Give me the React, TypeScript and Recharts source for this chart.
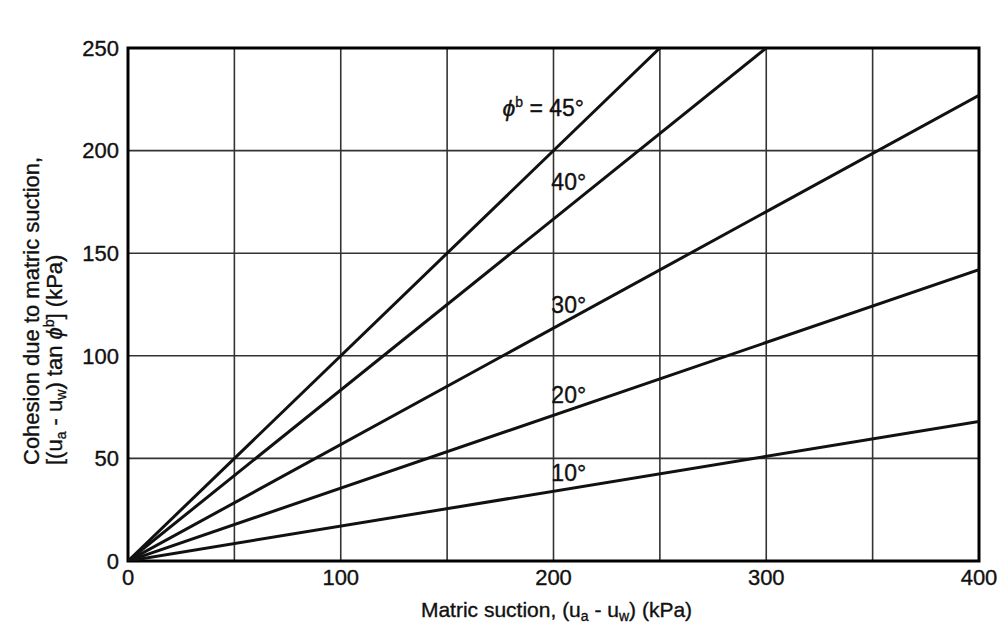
import {
    CartesianGrid,
    Line,
    LineChart,
    ReferenceArea,
    ReferenceDot,
    XAxis,
    YAxis,
} from "recharts";

// matric suction axis (kPa), grid every 50, labels every 100
const X_TICKS = [0, 50, 100, 150, 200, 250, 300, 350, 400];
// cohesion axis (kPa)
const Y_TICKS = [0, 50, 100, 150, 200, 250];

// friction angles phi_b, one straight line each from the origin
const ANGLES = ["45°", "40°", "30°", "20°", "10°"];
// where each line leaves the plot
const END_SUCTION = [250, 300, 400, 400, 400];
const END_COHESION = [250, 250, 227, 142, 68];

// label anchors (data units), left/baseline of each angle label
const LABEL_SUCTION = [176, 199, 199, 199, 199];
const LABEL_COHESION = [217, 181, 121, 77, 39];

const FONT = "'Liberation Sans', Arial, Helvetica, sans-serif";
const INK = "#111";
// a hairline outline makes the type as heavy as the scanned original
const HEAVY = { stroke: INK, strokeWidth: 0.35 };

const series = ANGLES.map((name, i) => ({
    name,
    data: [
        { x: 0, y: 0 },
        { x: END_SUCTION[i], y: END_COHESION[i] },
    ],
}));

function AngleLabel({ cx, cy, i }: { cx?: number; cy?: number; i: number }) {
    if (cx == null || cy == null) return null;
    return (
        <text x={cx} y={cy} fontFamily={FONT} fontSize={23} fill={INK} {...HEAVY}>
            {i === 0 ? (
                <>
                    <tspan fontStyle="italic">ϕ</tspan>
                    <tspan fontSize={14} dy={-9}>b</tspan>
                    <tspan dy={9}> = {ANGLES[i]}</tspan>
                </>
            ) : (
                ANGLES[i]
            )}
        </text>
    );
}

const renderXTitle = ({ viewBox }: any) => {
    const cx = viewBox.x + viewBox.width / 2 + 3;
    const y = viewBox.y + 56;
    return (
        <text x={cx} y={y} textAnchor="middle" fontFamily={FONT} fontSize={21} fill={INK} {...HEAVY}>
            Matric suction, (u
            <tspan fontSize={14} dy={4}>a</tspan>
            <tspan dy={-4}> - u</tspan>
            <tspan fontSize={14} dy={4}>w</tspan>
            <tspan dy={-4}>) (kPa)</tspan>
        </text>
    );
};

const renderYTitle = ({ viewBox }: any) => {
    const y = viewBox.y + viewBox.height - 96;
    return (
        <g fontFamily={FONT} fontSize={22} fill={INK} {...HEAVY}>
            <text x={39} y={y} transform={`rotate(-90 39 ${y})`}>
                Cohesion due to matric suction,
            </text>
            <text x={62} y={y} transform={`rotate(-90 62 ${y})`}>
                [(u
                <tspan fontSize={14} dy={4}>a</tspan>
                <tspan dy={-4}> - u</tspan>
                <tspan fontSize={14} dy={4}>w</tspan>
                <tspan dy={-4}>) tan </tspan>
                <tspan fontStyle="italic">ϕ</tspan>
                <tspan fontSize={14} dy={-8}>b</tspan>
                <tspan dy={8}>] (kPa)</tspan>
            </text>
        </g>
    );
};

const tickStyle = { fill: INK, fontSize: 22, fontFamily: FONT, ...HEAVY };

export default function App() {
    return (
        <div style={{ position: "absolute", left: 0, top: 0, width: 1000, height: 625, background: "#fff" }}>
            <LineChart
                width={1000}
                height={625}
                margin={{ top: 48, right: 21, bottom: 0, left: 0 }}
            >
                <CartesianGrid stroke="#333" strokeWidth={1.6} />
                <XAxis
                    type="number"
                    dataKey="x"
                    domain={[0, 400]}
                    ticks={X_TICKS}
                    tickFormatter={(v: number) => (v % 100 === 0 ? String(v) : "")}
                    height={64}
                    axisLine={false}
                    tickLine={false}
                    tickSize={6}
                    tickMargin={2}
                    tick={tickStyle}
                    label={{ content: renderXTitle }}
                    allowDataOverflow
                />
                <YAxis
                    type="number"
                    dataKey="y"
                    domain={[0, 250]}
                    ticks={Y_TICKS}
                    width={128}
                    axisLine={false}
                    tickLine={false}
                    tickSize={6}
                    tickMargin={3}
                    tick={tickStyle}
                    label={{ content: renderYTitle }}
                    allowDataOverflow
                />
                {series.map((s) => (
                    <Line
                        key={s.name}
                        data={s.data}
                        dataKey="y"
                        name={s.name}
                        type="linear"
                        stroke={INK}
                        strokeWidth={3}
                        dot={false}
                        activeDot={false}
                        isAnimationActive={false}
                    />
                ))}
                <ReferenceArea
                    x1={0}
                    x2={400}
                    y1={0}
                    y2={250}
                    fill="none"
                    fillOpacity={0}
                    stroke="#000"
                    strokeWidth={3}
                    ifOverflow="visible"
                />
                {ANGLES.map((a, i) => (
                    <ReferenceDot
                        key={a}
                        x={LABEL_SUCTION[i]}
                        y={LABEL_COHESION[i]}
                        r={0}
                        ifOverflow="visible"
                        shape={(p: any) => <AngleLabel cx={p.cx} cy={p.cy} i={i} />}
                    />
                ))}
            </LineChart>
        </div>
    );
}
